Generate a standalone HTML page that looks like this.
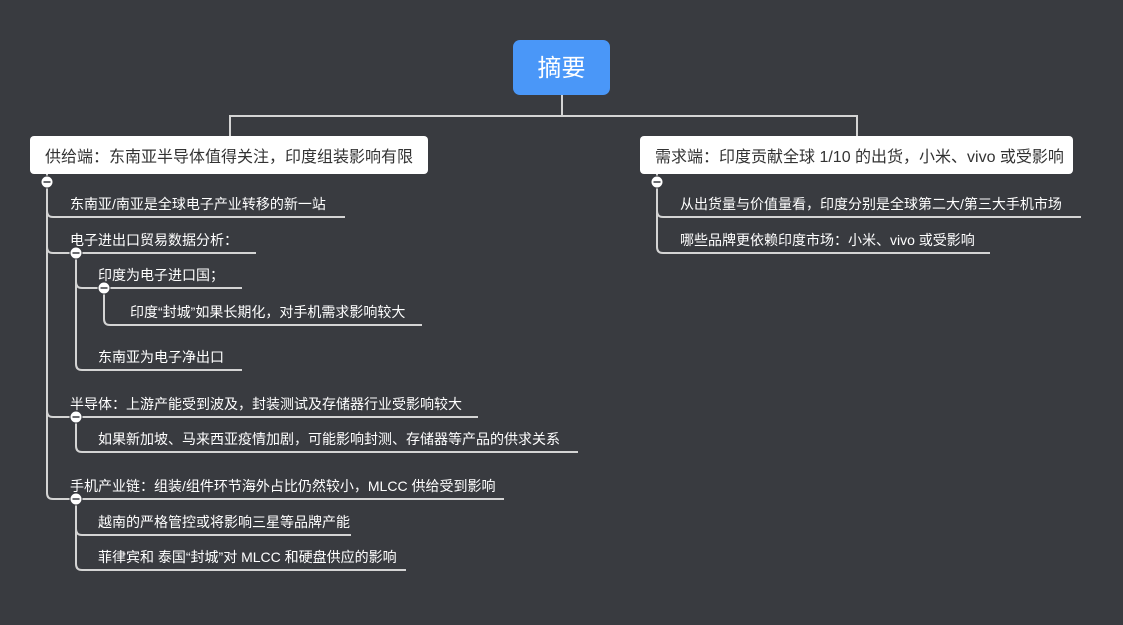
<!DOCTYPE html>
<html><head><meta charset="utf-8"><style>
html,body{margin:0;padding:0;background:#393b40;width:1123px;height:625px;overflow:hidden}
svg{display:block}
text{font-family:"Liberation Sans","Noto Sans CJK SC",sans-serif}
.t{fill:#fff;font-size:14px}
.b{fill:#333;font-size:16px}
.l{fill:none;stroke:#d4d4d4;stroke-width:2}
</style></head><body>
<svg width="1123" height="625" viewBox="0 0 1123 625">
<path class="l" d="M562 95V116M230 136V116H857V136"/>
<rect x="513" y="40" width="97" height="55" rx="7" fill="#4a97f8"/>
<text x="561.5" y="76" text-anchor="middle" fill="#fff" font-size="24">摘要</text>
<rect x="30" y="136" width="398" height="38" rx="4" fill="#fff"/>
<text class="b" x="45" y="162">供给端：东南亚半导体值得关注，印度组装影响有限</text>
<rect x="640" y="136" width="433" height="38" rx="4" fill="#fff"/>
<text class="b" x="655" y="162">需求端：印度贡献全球 1/10 的出货，小米、vivo 或受影响</text>

<path class="l" d="M47 174V211Q47 217 53 217H345"/>
<path class="l" d="M47 211V247Q47 253 53 253H256"/>
<path class="l" d="M47 247V411Q47 417 53 417H478"/>
<path class="l" d="M47 411V493Q47 499 53 499H504"/>
<path class="l" d="M76 253V282Q76 288 82 288H242"/>
<path class="l" d="M76 282V364Q76 370 82 370H242"/>
<path class="l" d="M104 288V319Q104 325 110 325H422"/>
<path class="l" d="M76 417V446Q76 452 82 452H578"/>
<path class="l" d="M76 499V529Q76 535 82 535H351"/>
<path class="l" d="M76 529V564Q76 570 82 570H406"/>
<text class="t" x="70" y="209">东南亚/南亚是全球电子产业转移的新一站</text>
<text class="t" x="70" y="245">电子进出口贸易数据分析：</text>
<text class="t" x="98" y="280">印度为电子进口国；</text>
<text class="t" x="130" y="317">印度“封城”如果长期化，对手机需求影响较大</text>
<text class="t" x="98" y="362">东南亚为电子净出口</text>
<text class="t" x="70" y="409">半导体：上游产能受到波及，封装测试及存储器行业受影响较大</text>
<text class="t" x="98" y="444">如果新加坡、马来西亚疫情加剧，可能影响封测、存储器等产品的供求关系</text>
<text class="t" x="70" y="491">手机产业链：组装/组件环节海外占比仍然较小，MLCC 供给受到影响</text>
<text class="t" x="98" y="527">越南的严格管控或将影响三星等品牌产能</text>
<text class="t" x="98" y="562">菲律宾和 泰国“封城”对 MLCC 和硬盘供应的影响</text>

<path class="l" d="M657 174V211Q657 217 663 217H1081"/>
<path class="l" d="M657 211V247Q657 253 663 253H990"/>
<text class="t" x="680" y="209">从出货量与价值量看，印度分别是全球第二大/第三大手机市场</text>
<text class="t" x="680" y="245">哪些品牌更依赖印度市场：小米、vivo 或受影响</text>

<g fill="#fff" stroke="#393b40" stroke-width="1">
<circle cx="47" cy="182" r="6"/><circle cx="76" cy="253" r="6"/><circle cx="104" cy="288" r="6"/>
<circle cx="76" cy="417" r="6"/><circle cx="76" cy="499" r="6"/><circle cx="657" cy="182" r="6"/>
</g>
<g stroke="#393b40" stroke-width="1.6">
<path d="M43.5 182H50.5M72.5 253H79.5M100.5 288H107.5M72.5 417H79.5M72.5 499H79.5M653.5 182H660.5"/>
</g>
</svg>
</body></html>
